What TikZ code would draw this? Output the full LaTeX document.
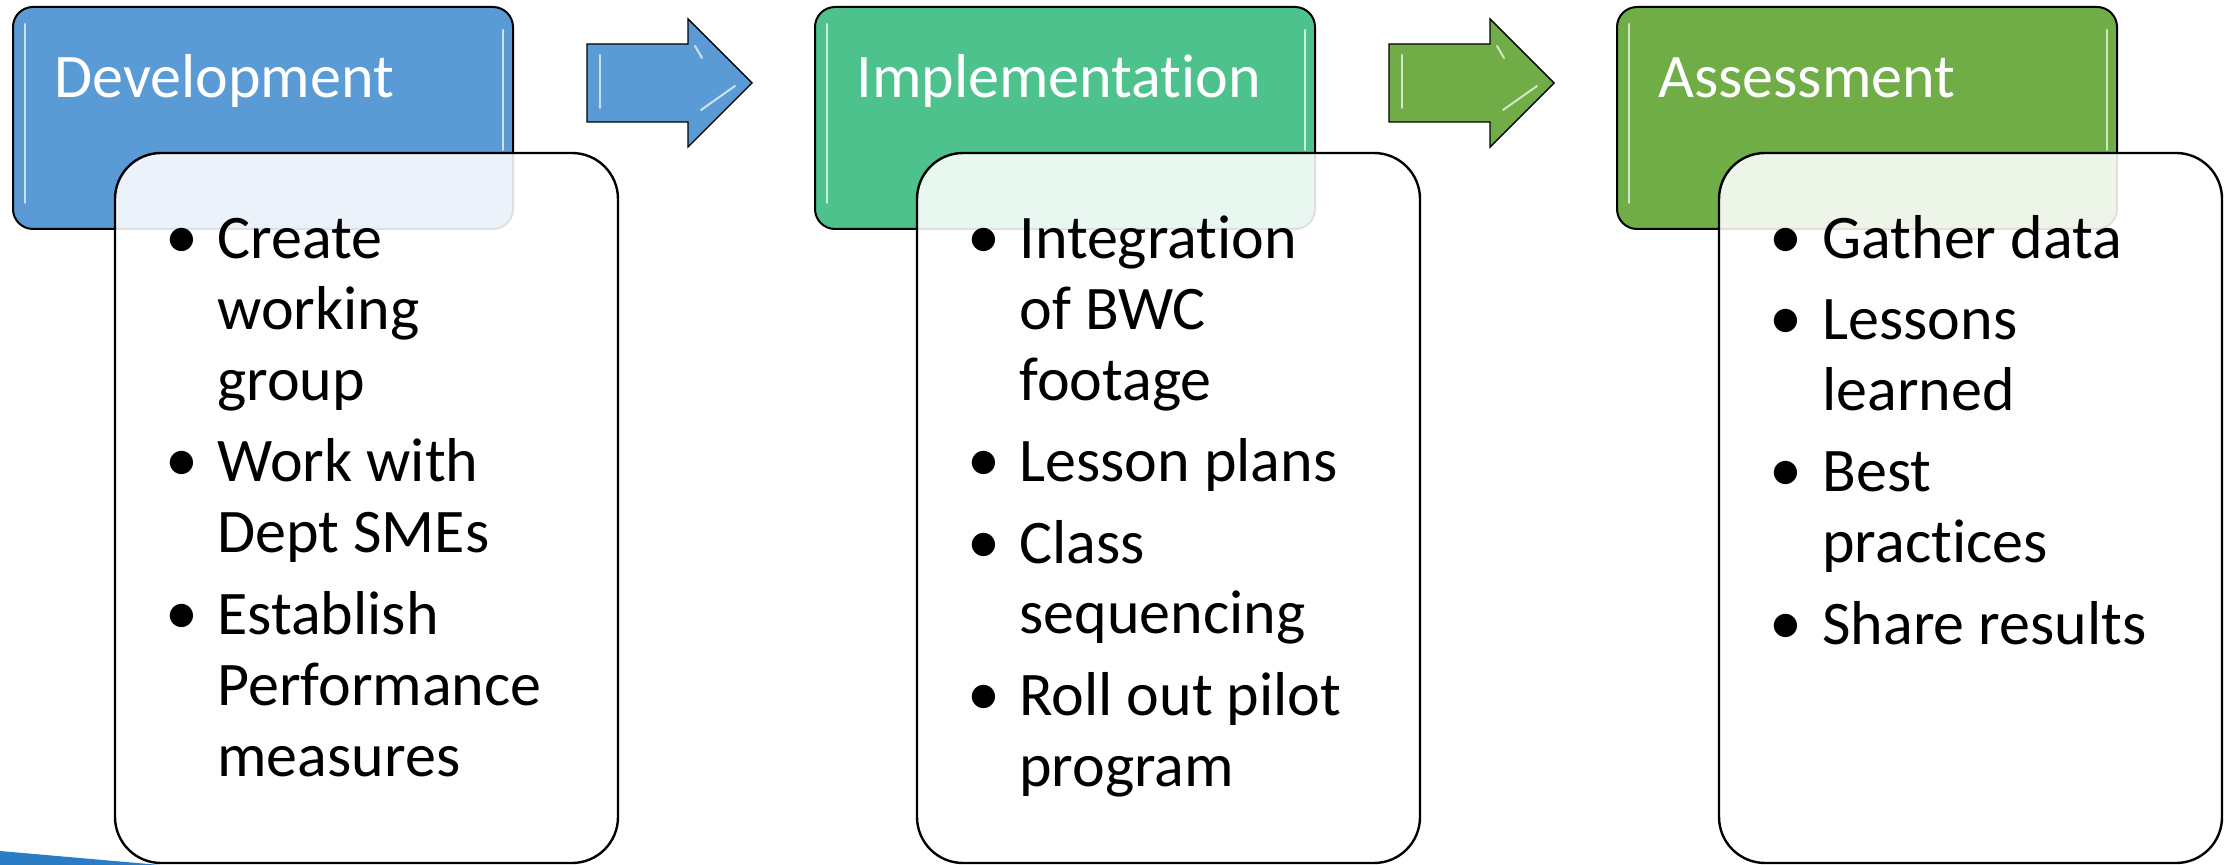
\documentclass[tikz,border=0pt]{standalone}
\usepackage{fontspec}
\setmainfont{Carlito}[Ligatures=NoCommon]
\usepackage{xcolor}
\definecolor{devblue}{HTML}{5B9BD5}
\definecolor{impgreen}{HTML}{4EC28C}
\definecolor{assgreen}{HTML}{70AD47}
\definecolor{swoosh}{HTML}{2A7DC4}
\newcommand{\pointlines}[1]{\begin{tabular}[t]{@{}l@{}}#1\end{tabular}}

\begin{document}
\begin{tikzpicture}[x=0.5pt,y=-0.5pt]
				\tikzstyle{header}=[rectangle,rounded corners=10pt,draw=black,line width=1pt,minimum width=250pt,minimum height=111pt,inner sep=0pt]
				\tikzstyle{body}=[rectangle,rounded corners=23pt,draw=black,line width=1.2pt,fill=white,fill opacity=0.88,minimum width=251.5pt,minimum height=355pt,inner sep=0pt]
				\tikzstyle{phase title}=[anchor=base west,inner sep=0pt,text=white,font=\fontsize{31}{36}\selectfont]
				\tikzstyle{point}=[anchor=base west,inner sep=0pt,font=\fontsize{31}{35.5}\selectfont]
				\tikzstyle{bul}=[anchor=base,inner sep=0pt,font=\fontsize{33}{35.5}\selectfont]
				\tikzstyle{shine}=[line width=1pt,line cap=round]
				\tikzstyle{block arrow}=[draw=black,line width=0.7pt]
				
				% Page and corner swoosh
				\fill[white] (0,0) rectangle (2226,865);
				\useasboundingbox (0,0) rectangle (2226,865);
				\fill[swoosh] (0,851) -- (160,865) -- (0,865) -- cycle;
				
				% Draw the phase headers
				\foreach \name/\x/\col/\txt in {dev/13/devblue/Development,imp/815/impgreen/Implementation,ass/1617/assgreen/Assessment}
				{
				\node[header,fill=\col] (\name) at (\x+250,118) {};
				\draw[shine,draw=\col!30!white] (\x+12,24) -- (\x+12,203);
				\draw[shine,draw=\col!30!white] (\x+490,30) -- (\x+490,150);
				\node[phase title] (\name-t) at (\x+41,98) {\txt};
				}
				
				% Draw the block arrows
				\foreach \x/\col in {587/devblue,1389/assgreen}
				{
				\filldraw[block arrow,fill=\col] (\x,44) -- (\x+101,44) -- (\x+101,19) -- (\x+165,83) -- (\x+101,147) -- (\x+101,122) -- (\x,122) -- cycle;
				\draw[shine,draw=\col!30!white] (\x+13,55) -- (\x+13,108);
				\draw[shine,draw=\col!30!white] (\x+114,110) -- (\x+148,86);
				\draw[shine,draw=\col!30!white] (\x+108,46) -- (\x+115,58);
				}
				
				% Draw the bodies
				\foreach \name/\x in {dev/115,imp/917,ass/1719}
				\node[body] (\name-b) at (\x+251.5,508) {};
				
				% Development points
				\foreach \i/\y/\txt in {1/259/{Create\\working\\group},2/482/{Work with\\Dept SMEs},3/634/{Establish\\Performance\\measures}}
				{
				\node[bul] (dev-d\i) at (182,\y) {\textbullet};
				\node[point] (dev-p\i) at (217,\y) {\pointlines{\txt}};
				}
				
				% Implementation points
				\foreach \i/\y/\txt in {1/259/{Integration\\of BWC\\footage},2/482/{Lesson plans},3/563/{Class\\sequencing},4/715/{Roll out pilot\\program}}
				{
				\node[bul] (imp-d\i) at (984,\y) {\textbullet};
				\node[point] (imp-p\i) at (1019,\y) {\pointlines{\txt}};
				}
				
				% Assessment points
				\foreach \i/\y/\txt in {1/259/{Gather data},2/340/{Lessons\\learned},3/492/{Best\\practices},4/644/{Share results}}
				{
				\node[bul] (ass-d\i) at (1786,\y) {\textbullet};
				\node[point] (ass-p\i) at (1822,\y) {\pointlines{\txt}};
				}
				
\end{tikzpicture}
\end{document}
